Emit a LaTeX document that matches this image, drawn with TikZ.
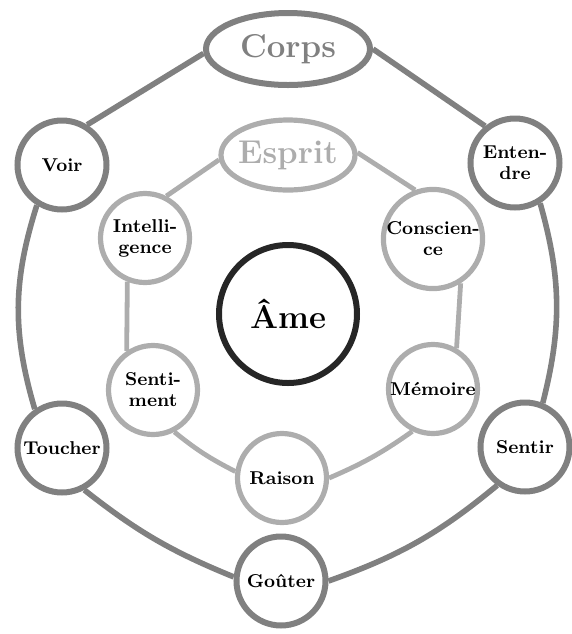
\documentclass[tikz,border=0pt]{standalone}
\usetikzlibrary{shapes.geometric}

\definecolor{outergray}{gray}{0.5}
\definecolor{innergray}{gray}{0.68}
\definecolor{amegray}{gray}{0.15}

\newcommand{\smalltext}{\fontsize{9.3}{10.5}\selectfont\bfseries}
\newcommand{\bigtext}{\fontsize{16.5}{18}\selectfont\bfseries}

\tikzset{
    sense/.style={circle, draw=outergray, line width=3pt, minimum size=44.5pt, inner sep=0pt, align=center, font=\smalltext},
    faculty/.style={circle, draw=innergray, line width=2.6pt, minimum size=44.5pt, inner sep=0pt, align=center, font=\smalltext},
    outerlink/.style={draw=outergray, line width=2.8pt},
    innerlink/.style={draw=innergray, line width=2.4pt}
}

\begin{document}
\begin{tikzpicture}[x=0.5pt, y=-0.5pt]
    \useasboundingbox (0,0) rectangle (572,634);

    % Outer ring nodes
    \node (corps) [ellipse, draw=outergray, line width=3pt, minimum width=82pt, minimum height=36pt, inner sep=0pt, text=outergray, font=\bigtext] at (288,49) {Corps};
    \node (voir) [sense] at (62,165) {Voir};
    \node (toucher) [sense] at (62,448) {Toucher};
    \node (gouter) [sense] at (281,581) {Goûter};
    \node (sentir) [sense] at (525,447) {Sentir};
    \node (entendre) [sense] at (515,163) {Enten-\\dre};

    % Inner ring nodes
    \node (esprit) [ellipse, draw=innergray, line width=2.6pt, minimum width=67pt, minimum height=35pt, inner sep=0pt, inner xsep=-4pt, text=innergray, font=\bigtext] at (288,155) {Esprit};
    \node (intel) [faculty] at (145,238) {Intelli-\\gence};
    \node (senti) [faculty] at (153,390) {Senti-\\ment};
    \node (raison) [faculty] at (282,478) {Raison};
    \node (memoire) [faculty] at (433,389) {Mémoire};
    \node (consc) [faculty] at (433,239) {Conscien-\\ce};

    % Centre
    \node (ame) [circle, draw=amegray, line width=3pt, minimum size=69pt, inner sep=0pt, font=\bigtext] at (288,314) {Âme};

    % Outer ring links
    \draw[outerlink] (corps.183) -- (voir.58);
    \draw[outerlink] (voir.238) to[bend right=17] (toucher.125);
    \draw[outerlink] (toucher.298) to[bend right=8] (gouter.175);
    \draw[outerlink] (gouter.0) to[bend right=10] (sentir.234);
    \draw[outerlink] (sentir.68) to[bend right=15] (entendre.302);
    \draw[outerlink] (entendre.129) -- (corps.0);

    % Inner ring links
    \draw[innerlink] (esprit.184) -- (intel.63);
    \draw[innerlink] (intel.248) -- (senti.124);
    \draw[innerlink] (senti.297) to[bend right=6] (raison.172);
    \draw[innerlink] (raison.0) to[bend right=6] (memoire.244);
    \draw[innerlink] (memoire.60) -- (consc.302);
    \draw[innerlink] (consc.110) -- (esprit.2);
\end{tikzpicture}
\end{document}
